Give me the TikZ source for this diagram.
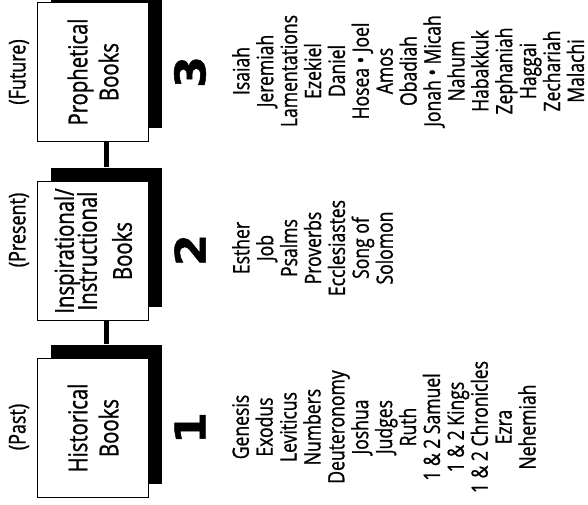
\documentclass[tikz,border=0pt]{standalone}
\usepackage{fontspec}
\setmainfont{Open Sans}[FakeStretch=0.78, FakeBold=1]
\newfontfamily\numfont{DejaVu Sans}[FakeStretch=1.1, BoldFeatures={FakeBold=1.2}]
\usetikzlibrary{shadows}

\tikzset{
  bookbox/.style={draw, line width=1.6pt, fill=white, minimum width=111pt, minimum height=139pt, inner sep=0pt,
    drop shadow={shadow xshift=13pt, shadow yshift=14pt, fill=black, opacity=1}},
  boxtext/.style={rotate=90, align=center, inner sep=0pt, font=\fontsize{26}{31}\selectfont},
  eralabel/.style={rotate=90, inner sep=0pt, font=\fontsize{23}{26}\selectfont},
  booklist/.style={rotate=90, anchor=north, align=center, inner sep=0pt, font=\fontsize{22.5}{23.9}\selectfont},
  secnum/.style={rotate=90, inner sep=0pt, font=\numfont\bfseries\fontsize{42}{42}\selectfont},
  link/.style={line width=5pt}
}

\begin{document}
\begin{tikzpicture}[x=1pt,y=-1pt]
	\useasboundingbox (0,0) rectangle (588,504);
	% the three boxes
	\node[bookbox] (hist) at (93,428) {};
	\node[bookbox] (insp) at (93,251) {};
	\node[bookbox] (proph) at (93,72) {};
	\node[boxtext] (histtext) at (hist) {Historical\\Books};
	\node[boxtext] (insptext) at (insp) {Inspirational/\\[-8pt]Instructional\\[4pt]Books};
	\node[boxtext] (prophtext) at (proph) {Prophetical\\Books};
	\draw[link] ([xshift=13.5pt]proph.south) -- ([xshift=13.5pt,yshift=14pt]insp.north);
	\draw[link] ([xshift=13.5pt]insp.south) -- ([xshift=13.5pt,yshift=14pt]hist.north);
	% periods
	\node[eralabel] (past) at (19,427) {(Past)};
	\node[eralabel] (present) at (19,230) {(Present)};
	\node[eralabel] (future) at (19,72) {(Future)};
	% numbers
	\node[secnum] (one) at (190,428) {1};
	\node[secnum] (two) at (190,250) {2};
	\node[secnum] (three) at (190,72) {3};
	% books
	\node[booklist] (histlist) at (232,427) {Genesis\\Exodus\\Leviticus\\Numbers\\Deuteronomy\\Joshua\\Judges\\Ruth\\1 \& 2 Samuel\\1 \& 2 Kings\\1 \& 2 Chronicles\\Ezra\\Nehemiah};
	\node[booklist] (insplist) at (232,248) {Esther\\Job\\Psalms\\Proverbs\\Ecclesiastes\\Song of\\Solomon};
	\node[booklist] (prophlist) at (232,71) {Isaiah\\Jeremiah\\Lamentations\\Ezekiel\\Daniel\\Hosea • Joel\\Amos\\Obadiah\\Jonah • Micah\\Nahum\\Habakkuk\\Zephaniah\\Haggai\\Zechariah\\Malachi};
\end{tikzpicture}
\end{document}
